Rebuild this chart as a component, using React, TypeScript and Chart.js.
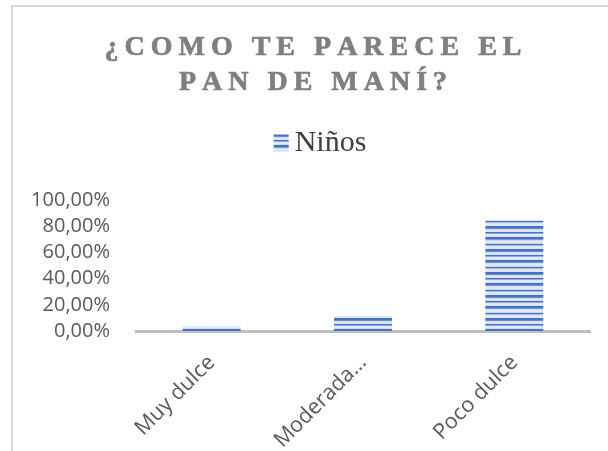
import React, { useEffect, useRef } from "react";
import { Chart, registerables } from "chart.js";

Chart.register(...registerables);

// ---- data ----
const categories = ["Muy dulce", "Moderada…", "Poco dulce"];
const seriesLabel = "Niños";
const ninos = [0.038, 0.115, 0.846];
const yTickValues = [0, 0.2, 0.4, 0.6, 0.8, 1];
const titleLines = ["¿COMO TE PARECE EL", "PAN DE MANÍ?"];

// ---- styles ----
const STRIPES = [
  "#4472c4", "#4472c4", "#7c9bd6", "#d3ddf2", "#e0e8f6", "#dde6f5", "#c8d5ef",
  "#4472c4", "#a9bde5", "#dbe4f4", "#e4ebf7", "#dbe4f4",
  "#4472c4", "#4472c4", "#6a8ed0", "#cfdaf1", "#e0e8f6", "#d8e1f3",
  "#4472c4", "#8faadc", "#dde6f5", "#e4ebf7", "#d3ddf2",
];
const W = 600;
const H = 444;

function makePattern(): CanvasPattern | string {
  const c = document.createElement("canvas");
  c.width = 4;
  c.height = STRIPES.length;
  const g = c.getContext("2d");
  if (!g) return "#4472c4";
  STRIPES.forEach((col, i) => {
    g.fillStyle = col;
    g.fillRect(0, i, 4, 1);
  });
  return g.createPattern(c, "repeat") || "#4472c4";
}

function fmtPct(v: number): string {
  return (v * 100).toFixed(2).replace(".", ",") + "%";
}

function drawSpaced(ctx: CanvasRenderingContext2D, text: string, cx: number, y: number, spacing: number) {
  const chars = Array.from(text);
  const widths = chars.map((ch) => ctx.measureText(ch).width);
  const w = widths.reduce((a, b) => a + b, 0) + spacing * (chars.length - 1);
  let x = cx - w / 2;
  ctx.textAlign = "left";
  chars.forEach((ch, i) => {
    ctx.fillText(ch, x, y);
    ctx.strokeText(ch, x, y);
    x += widths[i] + spacing;
  });
}

export default function App() {
  const canvasRef = useRef<HTMLCanvasElement | null>(null);

  useEffect(() => {
    const canvas = canvasRef.current;
    if (!canvas) return;
    const pattern = makePattern();

    const overlay = {
      id: "titleLegendOverlay",
      afterDraw(chart: any) {
        const ctx: CanvasRenderingContext2D = chart.ctx;
        const cx = chart.width / 2;
        ctx.save();
        ctx.textBaseline = "middle";
        ctx.fillStyle = "#7f7f7f";
        ctx.strokeStyle = "#7f7f7f";
        ctx.lineWidth = 0.7;
        ctx.lineJoin = "round";
        ctx.font = "bold 28px 'Liberation Serif', serif";
        titleLines.forEach((line, i) => {
          drawSpaced(ctx, line, cx, 41 + i * 34.5, 6);
        });
        // legend
        ctx.font = "30px 'Liberation Serif', serif";
        const label = chart.data.datasets[0].label as string;
        const tw = ctx.measureText(label).width;
        const boxW = 15;
        const boxH = 17;
        const gap = 6;
        const total = boxW + gap + tw;
        const lx = cx + 7 - total / 2;
        const ly = 136;
        ctx.fillStyle = pattern as any;
        ctx.fillRect(lx, ly - boxH / 2, boxW, boxH);
        ctx.fillStyle = "#404040";
        ctx.textAlign = "left";
        ctx.fillText(label, lx + boxW + gap, ly);
        ctx.restore();
      },
    };

    const chart = new Chart(canvas, {
      type: "bar",
      data: {
        labels: categories,
        datasets: [
          {
            label: seriesLabel,
            data: ninos,
            backgroundColor: pattern as any,
            borderWidth: 0,
            barPercentage: 0.383,
            categoryPercentage: 1,
          },
        ],
      },
      options: {
        animation: false,
        responsive: false,
        maintainAspectRatio: false,
        layout: { padding: { top: 193, left: 17, right: 23, bottom: 0 } },
        plugins: {
          legend: { display: false },
          title: { display: false },
          tooltip: { enabled: false },
        },
        scales: {
          x: {
            grid: { display: false, drawTicks: false },
            border: { display: true, color: "#bfbfbf", width: 3 },
            ticks: {
              autoSkip: false,
              minRotation: 45,
              maxRotation: 45,
              padding: 19,
              labelOffset: 0,
              color: "#595959",
              font: { family: "'Open Sans', sans-serif", size: 21.5 },
            },
            afterFit: (s: any) => {
              s.height = H - 324;
            },
          },
          y: {
            min: 0,
            max: 1,
            grid: { display: false, drawTicks: false },
            border: { display: false },
            afterBuildTicks: (s: any) => {
              s.ticks = yTickValues.map((v) => ({ value: v }));
            },
            ticks: {
              autoSkip: false,
              padding: 26,
              color: "#595959",
              font: { family: "'Open Sans', sans-serif", size: 20 },
              callback: (v: any) => fmtPct(Number(v)),
            },
            afterFit: (s: any) => {
              s.width = 106;
            },
          },
        },
      },
      plugins: [overlay],
    });

    return () => {
      chart.destroy();
    };
  }, []);

  return (
    <div
      style={{
        position: "fixed",
        left: 0,
        top: 0,
        width: 608,
        height: 451,
        overflow: "hidden",
        background: "#ffffff",
      }}
    >
      <div
        style={{
          position: "absolute",
          left: 11,
          top: 5,
          width: 640,
          height: 480,
          borderLeft: "2px solid #d9d9d9",
          borderTop: "2px solid #d9d9d9",
        }}
      />
      <canvas
        ref={canvasRef}
        width={W}
        height={H}
        style={{ position: "absolute", left: 13, top: 7, width: W, height: H }}
      />
    </div>
  );
}
